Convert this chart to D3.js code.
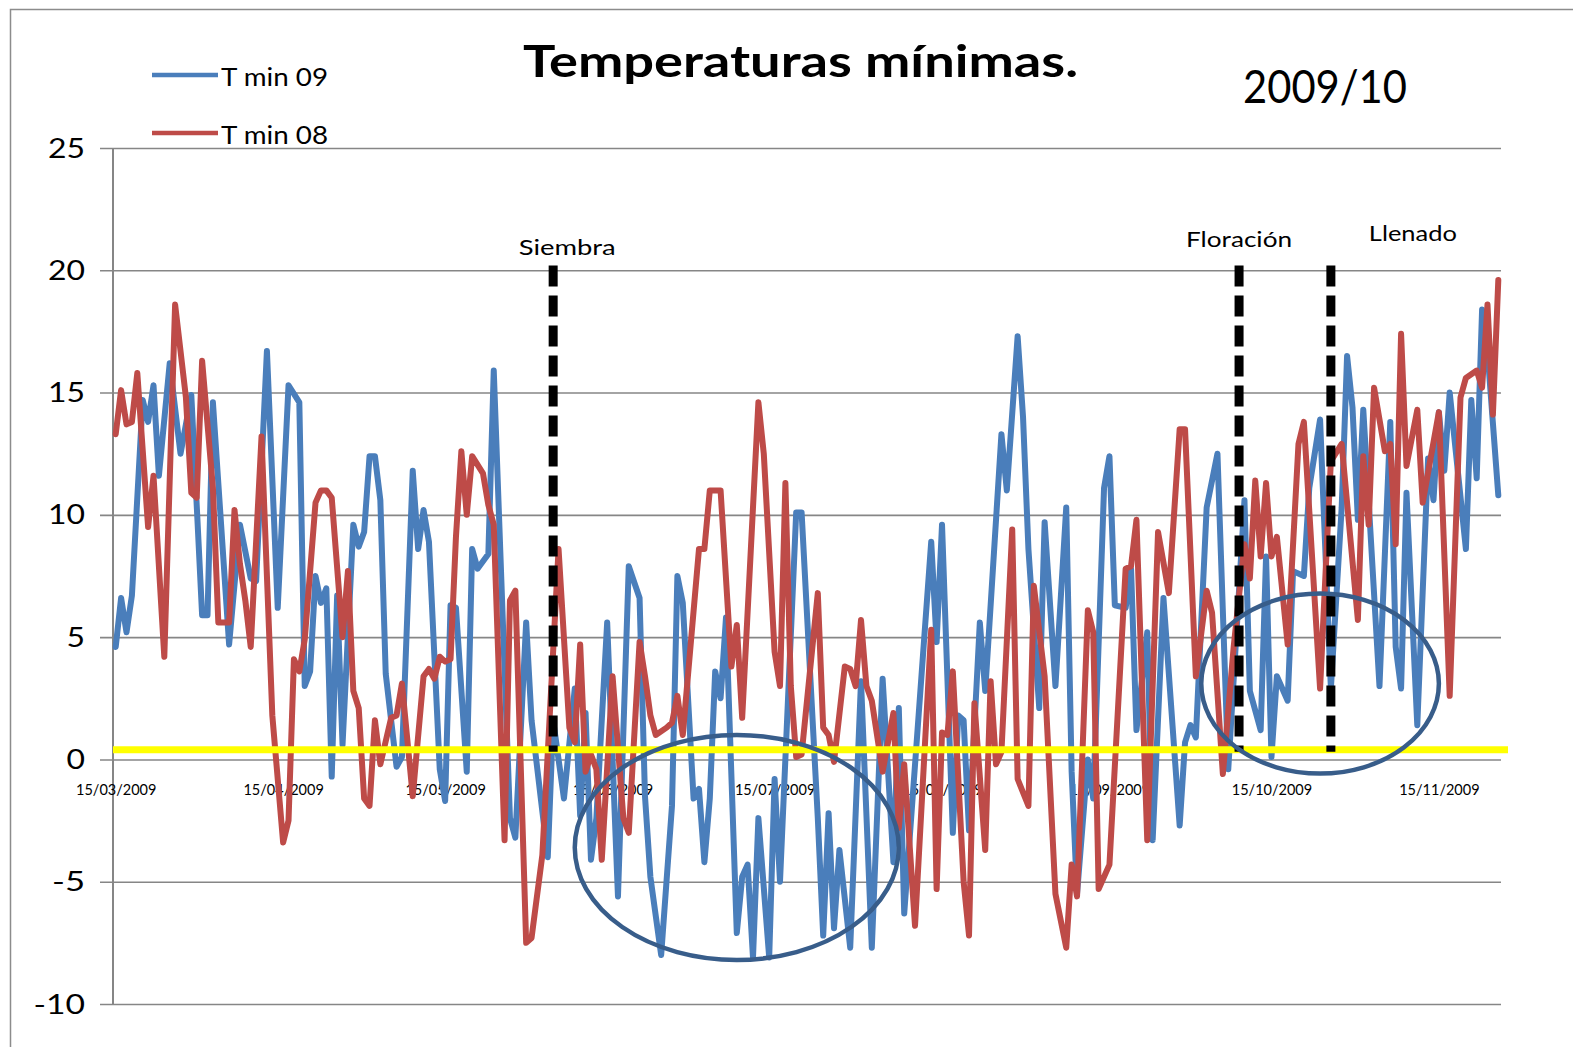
<!DOCTYPE html>
<html>
<head>
<meta charset="utf-8">
<script src="https://cdn.jsdelivr.net/npm/d3@7"></script>
<style>
  html, body { margin: 0; padding: 0; background: #ffffff; }
  svg { display: block; }
  text { font-family: Lato, "Open Sans", "DejaVu Sans", sans-serif; fill: #000; }
</style>
</head>
<body>
<svg id="chart" width="1573" height="1047"></svg>
<script>
// ---- data -----------------------------------------------------------
const startDate = "15/03/2009";          // day 0 of both series
const endDate = "27/11/2009";            // end of the date axis (exclusive)
const xTickLabels = ["15/03/2009", "15/04/2009", "15/05/2009", "15/06/2009", "15/07/2009",
                     "15/08/2009", "15/09/2009", "15/10/2009", "15/11/2009"];
const yTicks = [-10, -5, 0, 5, 10, 15, 20, 25];

// T min 09: day offset from startDate, minimum temperature (°C)
const tmin09Days = [0, 1, 2, 3, 5, 6, 7, 8, 10, 12, 14, 16, 17, 18, 21, 23, 25, 26, 28, 30,
  32, 34, 35, 36, 37, 38, 39, 40, 41, 42, 44, 45, 46, 47, 48, 49, 50, 52, 53, 55,
  56, 57, 58, 60, 61, 62, 63, 65, 66, 67, 69, 70, 71, 73, 74, 76, 77, 80, 81, 83,
  85, 86, 87, 88, 89, 91, 93, 95, 97, 98, 99, 101, 103, 104, 105, 107, 108, 109, 110, 111,
  112, 113, 115, 116, 117, 118, 119, 121, 122, 123, 126, 127, 130, 131, 132, 133, 134, 136, 138, 140,
  142, 144, 145, 146, 151, 152, 153, 155, 156, 157, 158, 160, 161, 164, 165, 167, 168, 169, 171, 172,
  174, 176, 177, 178, 180, 181, 183, 184, 185, 187, 188, 189, 191, 192, 194, 197, 198, 199, 200, 202,
  204, 206, 209, 210, 212, 213, 214, 215, 217, 218, 220, 221, 223, 225, 227, 228, 229, 230, 231, 234,
  236, 237, 238, 239, 241, 243, 244, 245, 246, 247, 250, 251, 252, 253, 254, 256];
const tmin09Values = [4.6, 6.6, 5.2, 6.7, 14.7, 13.8, 15.3, 11.6, 16.2, 12.5, 14.9, 5.9, 5.9, 14.6, 4.7, 9.6, 7.4, 7.3, 16.7, 6.2,
  15.3, 14.6, 3.0, 3.6, 7.5, 6.4, 7.0, -0.7, 6.7, 0.6, 9.6, 8.7, 9.3, 12.4, 12.4, 10.6, 3.5, -0.3, 0.1, 11.8,
  8.6, 10.2, 8.9, -0.4, -1.7, 6.3, 6.2, -0.5, 8.6, 7.8, 8.4, 15.9, 9.8, -2.4, -3.2, 5.6, 1.6, -4.0, 1.6, -1.6,
  2.9, -2.3, 1.9, -4.1, -2.4, 5.6, -5.6, 7.9, 6.6, -1.5, -4.8, -8.0, -1.9, 7.5, 6.4, -1.6, -1.2, -4.2, -1.6, 3.6,
  2.5, 5.8, -7.1, -4.8, -4.3, -8.1, -2.4, -8.1, -0.8, -5.0, 10.1, 10.1, -2.4, -7.2, -2.2, -6.9, -3.7, -7.7, 3.2, -7.7,
  3.3, -4.2, 2.1, -6.3, 8.9, 4.8, 9.6, -3.0, 1.8, 1.6, -2.9, 5.6, 2.8, 13.3, 11.0, 17.3, 14.0, 8.6, 2.1, 9.7,
  3.0, 10.3, -0.5, -5.5, 0.0, -1.6, 11.1, 12.4, 6.3, 6.2, 7.8, 1.2, 5.2, -3.3, 6.6, -2.7, 0.7, 1.4, 0.9, 10.3,
  12.5, -0.4, 10.6, 2.8, 1.2, 8.3, 0.1, 3.4, 2.4, 7.7, 7.5, 11.1, 13.9, 2.9, 10.3, 16.5, 14.4, 9.8, 14.3, 3.0,
  13.8, 4.6, 2.9, 10.9, 1.4, 12.3, 10.6, 14.2, 11.8, 15.0, 8.6, 14.7, 11.5, 18.4, 16.7, 10.8];

// T min 08: day offset from startDate, minimum temperature (°C)
const tmin08Days = [0, 1, 2, 3, 4, 6, 7, 9, 11, 13, 14, 15, 16, 18, 19, 21, 22, 23, 24, 25,
  27, 29, 31, 32, 33, 34, 35, 37, 38, 39, 40, 42, 43, 44, 45, 46, 47, 48, 49, 51,
  52, 53, 55, 57, 58, 59, 60, 61, 62, 63, 64, 65, 66, 68, 69, 70, 72, 73, 74, 76,
  77, 79, 82, 84, 85, 86, 87, 88, 89, 90, 92, 94, 95, 97, 98, 99, 100, 102, 103, 104,
  105, 108, 109, 110, 112, 114, 115, 116, 119, 120, 122, 123, 124, 125, 126, 127, 130, 131, 132, 133,
  135, 136, 137, 138, 139, 140, 142, 144, 145, 146, 148, 151, 152, 153, 154, 155, 157, 158, 159, 161,
  162, 163, 164, 166, 167, 169, 170, 172, 174, 176, 177, 178, 180, 181, 182, 184, 187, 188, 189, 191,
  193, 195, 197, 198, 200, 202, 203, 205, 207, 209, 210, 211, 212, 213, 214, 215, 217, 219, 220, 223,
  225, 227, 230, 231, 232, 233, 235, 236, 237, 238, 239, 241, 242, 245, 247, 249, 250, 252, 253, 254,
  255, 256];
const tmin08Values = [13.3, 15.1, 13.7, 13.8, 15.8, 9.5, 11.6, 4.2, 18.6, 14.8, 10.9, 10.7, 16.3, 11.1, 5.6, 5.6, 10.2, 8.0, 6.5, 4.6,
  13.2, 1.8, -3.4, -2.5, 4.1, 3.6, 4.9, 10.5, 11.0, 11.0, 10.7, 5.0, 7.7, 2.8, 2.1, -1.6, -1.9, 1.6, -0.2, 1.7,
  1.8, 3.1, -1.5, 3.4, 3.7, 3.3, 4.2, 4.0, 4.1, 9.1, 12.6, 10.0, 12.4, 11.7, 10.4, 9.6, -3.3, 6.5, 6.9, -7.5,
  -7.3, -3.9, 8.6, 1.3, 0.7, 4.7, -0.5, 0.2, -0.4, -4.1, 3.4, -2.4, -3.0, 4.8, 3.4, 1.8, 1.0, 1.3, 1.5, 2.6,
  1.0, 8.6, 8.6, 11.0, 11.0, 3.8, 5.5, 1.7, 14.6, 12.5, 4.4, 3.0, 11.3, 3.0, 0.1, 0.2, 6.8, 1.3, 1.0, -0.1,
  3.8, 3.7, 3.0, 5.7, 3.0, 2.4, -0.5, 1.9, -2.8, -0.2, -6.8, 5.3, -5.3, 1.1, 1.0, 3.6, -5.0, -7.2, 2.3, -3.7,
  3.2, -0.2, 0.3, 9.4, -0.8, -1.9, 7.1, 3.4, -5.5, -7.7, -4.3, -5.6, 6.1, 5.2, -5.3, -4.3, 7.8, 7.9, 9.8, -3.3,
  9.3, 6.8, 13.5, 13.5, 3.4, 6.9, 6.0, -0.6, 4.6, 8.8, 7.4, 11.4, 8.3, 11.3, 8.3, 9.1, 4.7, 12.9, 13.8, 2.9,
  12.2, 12.9, 5.7, 12.4, 9.6, 15.2, 12.6, 12.9, 8.8, 17.4, 12.0, 14.3, 10.5, 14.2, 2.6, 14.8, 15.6, 15.9, 15.2, 18.6,
  14.1, 19.6];

const seriesNames = ["T min 09", "T min 08"];
const seriesColors = ["#4a7ebb", "#be4b48"];

// crop stages marked with dashed lines
const stageNames = ["Siembra", "Floración", "Llenado"];
const stageDates = ["04/06/2009", "09/10/2009", "26/10/2009"];

// frost reference level (°C)
const frostLevel = 0.4;

// ---- drawing --------------------------------------------------------
const parse = d3.utcParse("%d/%m/%Y");
const day0 = parse(startDate);
const dayDate = d => d3.utcHour.offset(d3.utcDay.offset(day0, d), 12);
const midday = s => d3.utcHour.offset(parse(s), 12);

const svg = d3.select("#chart");
const W = 1573, H = 1047;
const plot = { left: 113, right: 1501, top: 148, bottom: 1004, gridStart: 100 };

svg.append("rect").attr("width", W).attr("height", H).attr("fill", "#fff");
// outer chart frame
svg.append("rect").attr("x", 10.5).attr("y", 9.5).attr("width", 1700).attr("height", 1200)
  .attr("fill", "none").attr("stroke", "#8c8c8c").attr("stroke-width", 1.5);

const x = d3.scaleUtc().domain([day0, parse(endDate)]).range([plot.left, plot.right]);
const y = d3.scaleLinear().domain([-10, 25]).range([plot.bottom, plot.top]);

// horizontal gridlines (they reach a little left of the axis, as tick marks)
const yAxis = d3.axisLeft(y).tickValues(yTicks).tickSize(-(plot.right - plot.gridStart)).tickFormat("");
const gy = svg.append("g").attr("transform", `translate(${plot.gridStart},0)`).call(yAxis);
gy.select(".domain").remove();
gy.selectAll(".tick line").attr("stroke", "#868686").attr("stroke-width", 1.6);

// y labels
yTicks.forEach(v => {
  svg.append("text").attr("x", 85).attr("y", y(v) + 9.5).attr("text-anchor", "end")
    .attr("font-size", 26).attr("textLength", String(v).length * 18.5 - (v < 0 ? 4 : 0))
    .attr("lengthAdjust", "spacingAndGlyphs").text(v);
});

// vertical axis line
svg.append("line").attr("x1", plot.left).attr("x2", plot.left).attr("y1", plot.top).attr("y2", plot.bottom)
  .attr("stroke", "#868686").attr("stroke-width", 2);

// date labels
const xAxis = d3.axisBottom(x).tickValues(xTickLabels.map(midday))
  .tickSize(0).tickFormat(d3.utcFormat("%d/%m/%Y"));
const gx = svg.append("g").attr("transform", `translate(0,${y(0)})`).call(xAxis);
gx.select(".domain").remove();
gx.selectAll(".tick text").attr("y", 36).attr("dy", 0)
  .attr("font-family", "'DejaVu Sans', sans-serif").attr("font-size", 14.5).attr("fill", "#000");

// series
const line = d3.line().x(p => x(dayDate(p[0]))).y(p => y(p[1]));
const series = [
  d3.zip(tmin09Days, tmin09Values),
  d3.zip(tmin08Days, tmin08Values)
];
// draw T min 09 first, T min 08 on top
series.forEach((pts, i) => {
  svg.append("path").datum(pts).attr("d", line).attr("fill", "none")
    .attr("stroke", seriesColors[i]).attr("stroke-width", 6)
    .attr("stroke-linejoin", "round").attr("stroke-linecap", "round");
});

// frost level line
svg.append("line").attr("x1", plot.left).attr("x2", 1508).attr("y1", y(frostLevel)).attr("y2", y(frostLevel))
  .attr("stroke", "#ffff00").attr("stroke-width", 7);

// stage markers
const stageLabelPos = [{ dx: 14, y: 255 }, { dx: 0, y: 247 }, { dx: 82, y: 241 }];
const stageLabelWidth = [97, 106, 88];
stageDates.forEach((s, i) => {
  const sx = x(midday(s));
  svg.append("line").attr("x1", sx).attr("x2", sx).attr("y1", y(20.2)).attr("y2", y(frostLevel) + 2)
    .attr("stroke", "#000").attr("stroke-width", 9).attr("stroke-dasharray", "21 9");
  svg.append("text").attr("x", sx + stageLabelPos[i].dx).attr("y", stageLabelPos[i].y)
    .attr("text-anchor", "middle").attr("font-size", 21)
    .attr("textLength", stageLabelWidth[i]).attr("lengthAdjust", "spacingAndGlyphs")
    .text(stageNames[i]);
});

// highlighted cold spells
const zones = [
  { day: 115.4, temp: -3.6, halfDays: 29.9, halfTemp: 4.6 },
  { day: 223.2, temp: 3.1, halfDays: 22.4, halfTemp: 3.68 }
];
zones.forEach(z => {
  const cx = x(dayDate(z.day));
  const cy = y(z.temp);
  const rx = x(dayDate(z.day + z.halfDays)) - cx;
  const ry = y(z.temp - z.halfTemp) - cy;
  svg.append("ellipse").attr("cx", cx).attr("cy", cy).attr("rx", rx).attr("ry", ry)
    .attr("fill", "none").attr("stroke", "#385d8a").attr("stroke-width", 4.5);
});

// title
svg.append("text").attr("x", 523).attr("y", 77).attr("font-size", 44).attr("font-weight", 700)
  .attr("textLength", 555).attr("lengthAdjust", "spacingAndGlyphs").text("Temperaturas mínimas.");
svg.append("text").attr("x", 1243).attr("y", 103).attr("font-size", 46)
  .attr("textLength", 164).attr("lengthAdjust", "spacingAndGlyphs").text("2009/10");

// legend
seriesNames.forEach((n, i) => {
  const ly = 75 + i * 58;
  svg.append("line").attr("x1", 152).attr("x2", 218).attr("y1", ly).attr("y2", ly)
    .attr("stroke", seriesColors[i]).attr("stroke-width", 4.5);
  svg.append("text").attr("x", 221).attr("y", ly + 11).attr("font-size", 25)
    .attr("textLength", 107).attr("lengthAdjust", "spacingAndGlyphs").text(n);
});
</script>
</body>
</html>
